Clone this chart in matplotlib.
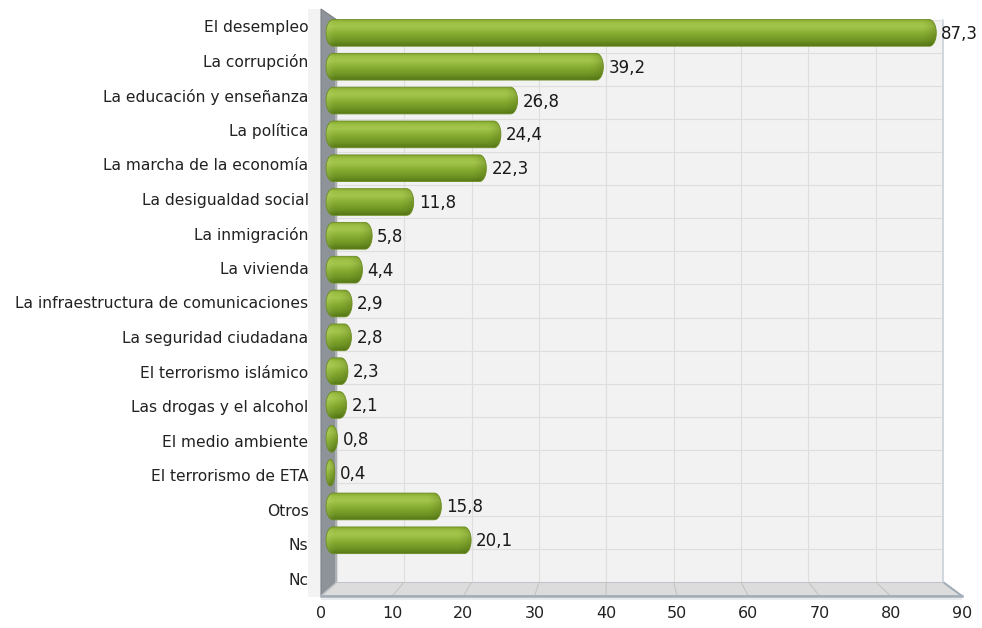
import matplotlib
matplotlib.use("Agg")
import matplotlib.pyplot as plt
import numpy as np
from matplotlib.colors import LinearSegmentedColormap
from matplotlib.patches import PathPatch, Polygon, Rectangle
from matplotlib.path import Path

categories = [
    "El desempleo",
    "La corrupción",
    "La educación y enseñanza",
    "La política",
    "La marcha de la economía",
    "La desigualdad social",
    "La inmigración",
    "La vivienda",
    "La infraestructura de comunicaciones",
    "La seguridad ciudadana",
    "El terrorismo islámico",
    "Las drogas y el alcohol",
    "El medio ambiente",
    "El terrorismo de ETA",
    "Otros",
    "Ns",
    "Nc",
]
values = [87.3, 39.2, 26.8, 24.4, 22.3, 11.8, 5.8, 4.4, 2.9, 2.8, 2.3, 2.1,
          0.8, 0.4, 15.8, 20.1, None]
x_ticks = [0, 10, 20, 30, 40, 50, 60, 70, 80, 90]
x_max = 90

# layout in pixels (left, top, right, bottom)
W, H = 982, 628
FRONT = (321, 9, 962, 596)
BACK = (337, 20, 943, 582)
BARS = (329, 16, 952, 591)


def fig_rect(box):
    l, t, r, b = box
    return [l / W, 1 - b / H, (r - l) / W, (b - t) / H]


def capsule(x0, x1, yc, half_h, rx):
    """Bar outline with elliptical ends (data coords)."""
    rx = min(rx, (x1 - x0) / 2)
    a = np.linspace(-np.pi / 2, np.pi / 2, 25)
    right = np.column_stack([x1 - rx + rx * np.cos(a), yc + half_h * np.sin(a)])
    a = np.linspace(np.pi / 2, 3 * np.pi / 2, 25)
    left = np.column_stack([x0 + rx + rx * np.cos(a), yc + half_h * np.sin(a)])
    pts = np.vstack([right, left, right[:1]])
    codes = [Path.MOVETO] + [Path.LINETO] * (len(pts) - 2) + [Path.CLOSEPOLY]
    return Path(pts, codes)


fig = plt.figure(figsize=(W / 100, H / 100), dpi=100)
plt.rcParams["font.family"] = ["DejaVu Sans"]

# --- frame: left wall and floor, drawn in pixel coords ---
frame = fig.add_axes([0, 0, 1, 1], zorder=0)
frame.set_xlim(0, W)
frame.set_ylim(H, 0)
frame.axis("off")

fl, ft, fr, fb = FRONT
bl, bt, br, bb = BACK

frame.add_patch(Rectangle((308, ft), fl - 308, fb - ft + 1,
                          facecolor="#f3f3f3", edgecolor="none"))
frame.add_patch(Polygon([(fl, ft), (bl, bt), (bl, bb), (fl, fb)],
                        closed=True, facecolor="#8e9399",
                        edgecolor="#7d8288", linewidth=0.8))
frame.plot([bl - 1, bl - 1], [bt + 1, bb], color="#b3b8bd", lw=1.2)
frame.add_patch(Polygon([(fl, fb), (bl, bb), (br, bb), (fr, fb)],
                        closed=True, facecolor="#dcdcdc",
                        edgecolor="#b2bac2", linewidth=1))
for t in x_ticks:
    xf = fl + t / x_max * (fr - fl)
    xb = bl + t / x_max * (br - bl)
    frame.plot([xf, xb], [fb, bb], color="#c4c4c4", lw=0.8)
frame.add_patch(Rectangle((fl, fb), fr - fl, 4,
                          facecolor="#e8ecef", edgecolor="none"))
frame.plot([fl, fr], [fb, fb], color="#a3adb7", lw=1.8)
frame.plot([br, fr], [bb, fb], color="#a3adb7", lw=1.4)

# --- back wall with grid ---
ax_back = fig.add_axes(fig_rect(BACK), zorder=1)
ax_back.set_facecolor("#f2f2f2")
ax_back.set_xlim(0, x_max)
ax_back.set_ylim(0, len(categories))
ax_back.set_xticks(x_ticks)
ax_back.set_yticks(np.arange(len(categories) + 1))
ax_back.grid(True, color="#dedede", linewidth=0.8)
ax_back.tick_params(length=0, labelbottom=False, labelleft=False)
for side in ["left", "bottom"]:
    ax_back.spines[side].set_visible(False)
ax_back.spines["top"].set_color("#e2e2e2")
ax_back.spines["right"].set_color("#c9d1d9")
ax_back.spines["right"].set_linewidth(1.2)

# --- front plane: category and value axis labels ---
ax_front = fig.add_axes(fig_rect(FRONT), zorder=2)
ax_front.patch.set_alpha(0)
ax_front.set_xlim(0, x_max)
ax_front.set_ylim(len(categories) - 0.5, -0.5)
ax_front.set_yticks(np.arange(len(categories)))
ax_front.set_yticklabels(categories, fontsize=11.2, color="#222222")
ax_front.set_xticks(x_ticks)
ax_front.set_xticklabels([str(t) for t in x_ticks], fontsize=11.5,
                         color="#222222")
ax_front.tick_params(axis="y", length=0, pad=9)
ax_front.tick_params(axis="x", length=0, pad=7)
for s in ax_front.spines.values():
    s.set_visible(False)

# --- bars ---
ax_bar = fig.add_axes(fig_rect(BARS), zorder=3)
ax_bar.patch.set_alpha(0)
ax_bar.axis("off")

px_x = (BARS[2] - BARS[0]) / x_max
bar_h = 0.79
cap = 3 / px_x
radius = 7 / px_x

green = LinearSegmentedColormap.from_list(
    "bar_green",
    [(0.0, "#83a72e"), (0.12, "#9cbf44"), (0.28, "#a3c54b"),
     (0.55, "#86ab30"), (0.8, "#6f9424"), (1.0, "#567717")],
)
grad = np.linspace(0, 1, 64).reshape(-1, 1)
shade = np.zeros((1, 32, 4))
shade[..., :3] = (0.28, 0.38, 0.06)
shade[..., 3] = np.linspace(0, 0.45, 32) ** 1.5
glow = np.zeros((1, 32, 4))
glow[..., :3] = (0.85, 0.93, 0.6)
glow[..., 3] = np.linspace(0.35, 0, 32) ** 1.5

for i, v in enumerate(values):
    if v is None:
        continue
    x0, x1 = -cap, v + cap
    patch = PathPatch(capsule(x0, x1, i, bar_h / 2, radius),
                      facecolor="none", edgecolor="#6c8d22",
                      linewidth=0.6, zorder=5)
    patch.set_clip_on(False)
    ax_bar.add_patch(patch)
    ext = (x0, x1, i + bar_h / 2, i - bar_h / 2)
    im = ax_bar.imshow(grad, cmap=green, aspect="auto", origin="upper",
                       extent=ext, zorder=2)
    sx0 = max(x0, x1 - 2 * radius)
    im2 = ax_bar.imshow(shade, aspect="auto", origin="upper",
                        extent=(sx0, x1, ext[2], ext[3]), zorder=3)
    gx1 = min(x1, x0 + 1.5 * radius)
    im3 = ax_bar.imshow(glow, aspect="auto", origin="upper",
                        extent=(x0, gx1, ext[2], ext[3]), zorder=4)
    for img in (im, im2, im3):
        img.set_clip_box(fig.bbox)
        img.set_clip_path(patch)
    ax_bar.annotate(f"{v:.1f}".replace(".", ","), xy=(x1, i),
                    xytext=(5, -1), textcoords="offset pixels",
                    ha="left", va="center", fontsize=12, color="#1a1a1a")

ax_bar.set_xlim(0, x_max)
ax_bar.set_ylim(len(categories) - 0.5, -0.5)

fig.savefig("out.png", dpi=100)
